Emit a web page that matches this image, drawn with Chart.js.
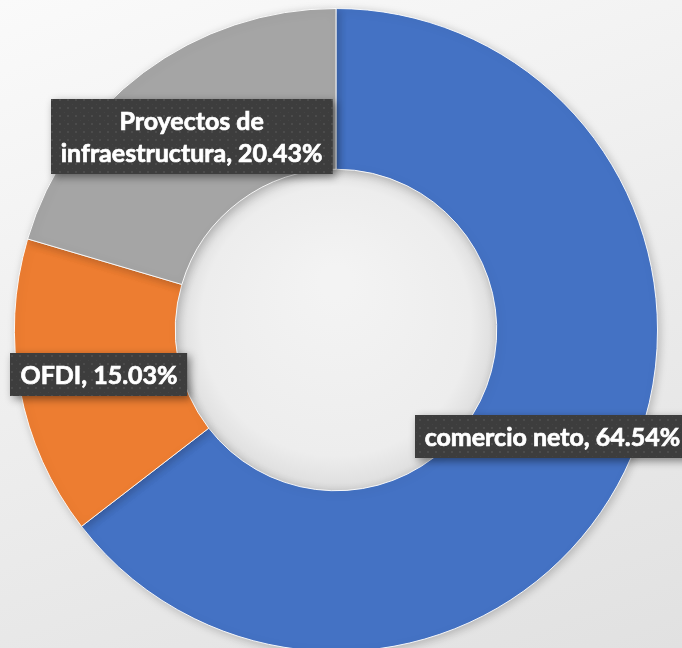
<!DOCTYPE html>
<html>
<head>
<meta charset="utf-8">
<script src="https://cdn.jsdelivr.net/npm/chart.js@4"></script>
<style>
  html, body { margin: 0; padding: 0; overflow: hidden; width: 682px; height: 648px; }
  body { background: linear-gradient(160deg, #fafafa 0%, #ececec 55%, #e1e1e1 100%); }
  #wrap { position: absolute; left: 0; top: 0; width: 682px; height: 660px; }
</style>
</head>
<body>
<div id="wrap"><canvas id="c"></canvas></div>
<script>
const categories = ['comercio neto', 'OFDI', 'Proyectos de infraestructura'];
const values = [64.54, 15.03, 20.43];
const colors = ['#4472C4', '#ED7D31', '#A5A5A5'];

// dotted dark pattern for label boxes
function makePattern(ctx) {
  const p = document.createElement('canvas');
  p.width = 8; p.height = 8;
  const pc = p.getContext('2d');
  pc.fillStyle = '#3d3d3d';
  pc.fillRect(0, 0, 8, 8);
  pc.fillStyle = '#4b4b4b';
  pc.fillRect(3, 3, 2, 2);
  pc.fillStyle = '#444444';
  pc.fillRect(0, 0, 1, 1);
  return ctx.createPattern(p, 'repeat');
}

function wrapText(ctx, text, maxW) {
  const words = text.split(' ');
  const lines = [];
  let cur = '';
  for (const w of words) {
    const t = cur ? cur + ' ' + w : w;
    if (ctx.measureText(t).width > maxW && cur) { lines.push(cur); cur = w; }
    else cur = t;
  }
  if (cur) lines.push(cur);
  return lines;
}

const holePlugin = {
  id: 'hole',
  beforeDatasetsDraw(chart) {
    const meta = chart.getDatasetMeta(0);
    const arc = meta.data[0];
    if (!arc) return;
    const { x, y, innerRadius } = arc.getProps(['x', 'y', 'innerRadius'], true);
    const ctx = chart.ctx;
    ctx.save();
    const g = ctx.createRadialGradient(x, y - innerRadius * 0.3, innerRadius * 0.1, x, y, innerRadius);
    g.addColorStop(0, '#f3f3f3');
    g.addColorStop(0.82, '#ededed');
    g.addColorStop(1, '#dddddd');
    ctx.fillStyle = g;
    ctx.beginPath();
    ctx.arc(x, y, innerRadius + 2, 0, Math.PI * 2);
    ctx.fill();
    ctx.restore();
  },
  beforeDatasetDraw(chart) {
    const ctx = chart.ctx;
    ctx.save();
    ctx.shadowColor = 'rgba(0,0,0,0.22)';
    ctx.shadowBlur = 10;
    ctx.shadowOffsetX = 2;
    ctx.shadowOffsetY = 2;
  },
  afterDatasetDraw(chart) {
    chart.ctx.restore();
  }
};

const labelPlugin = {
  id: 'boxLabels',
  afterDatasetsDraw(chart) {
    const ctx = chart.ctx;
    const meta = chart.getDatasetMeta(0);
    const pattern = makePattern(ctx);
    const fontSize = 25;
    const lineH = 32;
    ctx.save();
    ctx.font = 'bold ' + fontSize + 'px Lato, "Open Sans", sans-serif';
    meta.data.forEach((arc, i) => {
      const pos = arc.tooltipPosition(true);
      const text = categories[i] + ', ' + values[i].toFixed(2) + '%';
      const lines = wrapText(ctx, text, 272);
      const tw = Math.max(...lines.map(l => ctx.measureText(l).width));
      const w = tw + 20;
      const h = lines.length * lineH + 11;
      const bx = Math.round(pos.x - w / 2), by = Math.round(pos.y - h / 2);
      ctx.save();
      ctx.shadowColor = 'rgba(0,0,0,0.45)';
      ctx.shadowBlur = 8;
      ctx.shadowOffsetX = 3;
      ctx.shadowOffsetY = 3;
      ctx.fillStyle = pattern;
      ctx.fillRect(bx, by, w, h);
      ctx.restore();
      ctx.fillStyle = '#ffffff';
      ctx.strokeStyle = '#ffffff';
      ctx.lineWidth = 0.7;
      ctx.textAlign = 'center';
      ctx.textBaseline = 'middle';
      lines.forEach((l, k) => {
        const ty = by + 5.5 + lineH * k + lineH / 2 + 1;
        ctx.fillText(l, pos.x, ty);
        ctx.strokeText(l, pos.x, ty);
      });
    });
    ctx.restore();
  }
};

new Chart(document.getElementById('c'), {
  type: 'doughnut',
  data: {
    labels: categories,
    datasets: [{
      data: values,
      backgroundColor: colors,
      borderColor: 'rgba(255,255,255,0.9)',
      borderWidth: 1
    }]
  },
  options: {
    responsive: true,
    maintainAspectRatio: false,
    animation: false,
    cutout: '50%',
    layout: { padding: { left: 14, right: 24, top: 8, bottom: 8 } },
    plugins: { legend: { display: false }, tooltip: { enabled: false } }
  },
  plugins: [holePlugin, labelPlugin]
});
</script>
</body>
</html>
